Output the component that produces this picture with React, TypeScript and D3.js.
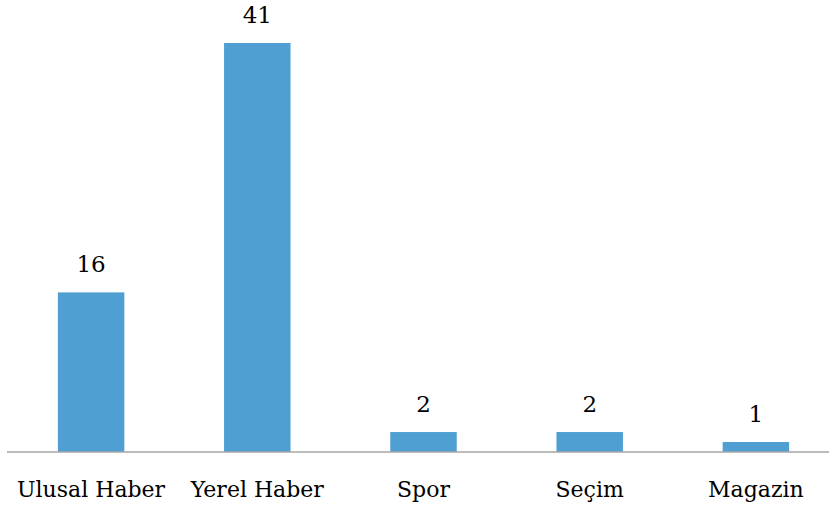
import React from "react";
import * as d3 from "d3";

const categories = ["Ulusal Haber", "Yerel Haber", "Spor", "Seçim", "Magazin"];
const values = [16, 41, 2, 2, 1];

const W = 829;
const H = 508;

export default function App() {
  const x = d3.scaleBand<string>().domain(categories).range([8, 839]).paddingInner(0.6).paddingOuter(0.3);
  const y = d3.scaleLinear().domain([0, 41]).range([452, 43]);
  const font = "'DejaVu Serif', serif";
  return (
    <svg width={W} height={H} style={{ position: "absolute", left: 0, top: 0, background: "#fff" }}>
      {categories.map((c, i) => (
        <g key={c}>
          <rect x={x(c)} y={y(values[i])} width={x.bandwidth()} height={y(0) - y(values[i])} fill="#4F9FD3" />
          <text x={(x(c) as number) + x.bandwidth() / 2} y={y(values[i]) - 20} textAnchor="middle" fontFamily={font} fontSize={23} fill="#000">
            {values[i]}
          </text>
          <text x={(x(c) as number) + x.bandwidth() / 2} y={497} textAnchor="middle" fontFamily={font} fontSize={22} fill="#000">
            {c}
          </text>
        </g>
      ))}
      <line x1={7} x2={829} y1={452} y2={452} stroke="#A6A6A6" strokeWidth={1.5} />
    </svg>
  );
}
